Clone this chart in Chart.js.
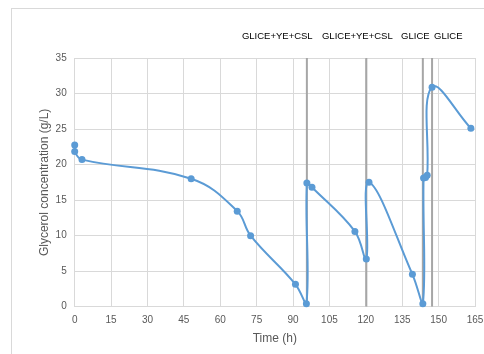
<!DOCTYPE html>
<html>
<head>
<meta charset="utf-8">
<script src="https://cdn.jsdelivr.net/npm/chart.js@4.4.0/dist/chart.umd.min.js"></script>
<style>
    html, body { margin: 0; padding: 0; background: #ffffff; }
    #wrap { position: relative; width: 484px; height: 354px; }
</style>
</head>
<body>
<div id="wrap"><canvas id="glycerolChart" width="484" height="354"></canvas></div>
<script>
// Glycerol concentration readings (h, g/L)
const times = [0, 0, 3, 48, 67, 72.5, 91, 95.5, 95.7, 97.8, 115.5, 120.2, 121.3, 139.2, 143.5, 143.8, 144.6, 145.3, 147.3, 163.3];
const glycerol = [22.75, 21.85, 20.7, 18.0, 13.45, 10.0, 3.15, 0.4, 17.4, 16.8, 10.6, 6.7, 17.5, 4.55, 0.4, 18.1, 18.2, 18.5, 30.9, 25.1];

// feeding events
const feedTimes = [95.7, 120.2, 143.5, 147.3];
const feedLabels = ["GLICE+YE+CSL", "GLICE+YE+CSL", "GLICE", "GLICE"];
const feedLabelAt = [83.5, 116.5, 140.4, 154];

const xTicks = [0, 15, 30, 45, 60, 75, 90, 105, 120, 135, 150, 165];
const yMax = 35;

const FONT = "'Liberation Sans', Arial, sans-serif";

const points = times.map((t, i) => ({ x: t, y: glycerol[i] }));

const feedSets = feedTimes.map((t) => ({
    data: [{ x: t, y: 0 }, { x: t, y: yMax }],
    borderColor: "#a6a6a6",
    borderWidth: 2,
    pointRadius: 0,
    tension: 0,
    order: 2,
}));

// frame + feed labels
const extras = {
    id: "extras",
    beforeDraw(chart) {
        const ctx = chart.ctx;
        ctx.save();
        ctx.strokeStyle = "#d9d9d9";
        ctx.lineWidth = 1;
        ctx.strokeRect(11.5, 8.5, 600, 500);
        ctx.restore();
    },
    afterDraw(chart) {
        const ctx = chart.ctx;
        const xs = chart.scales.x;
        ctx.save();
        ctx.fillStyle = "#000000";
        ctx.font = "9.5px " + FONT;
        ctx.textAlign = "center";
        ctx.textBaseline = "middle";
        feedLabels.forEach((txt, i) => {
            ctx.fillText(txt, xs.getPixelForValue(feedLabelAt[i]), 36);
        });
        ctx.restore();
    },
};

function noPad(s) {
    s.paddingLeft = 0;
    s.paddingRight = 0;
    s.paddingTop = 0;
    s.paddingBottom = 0;
}

const ctx = document.getElementById("glycerolChart").getContext("2d");
new Chart(ctx, {
    type: "line",
    data: {
        datasets: [
            {
                data: points,
                borderColor: "#5b9bd5",
                backgroundColor: "#5b9bd5",
                borderWidth: 2,
                pointRadius: 3.5,
                pointBorderWidth: 0,
                tension: 0.4,
                clip: false,
                order: 1,
            },
            ...feedSets,
        ],
    },
    options: {
        responsive: false,
        animation: false,
        events: [],
        layout: { padding: { top: 58, right: 9, left: 0, bottom: 0 } },
        plugins: { legend: { display: false }, tooltip: { enabled: false } },
        scales: {
            x: {
                type: "linear",
                min: 0,
                max: 165,
                afterBuildTicks: (s) => { s.ticks = xTicks.map((v) => ({ value: v })); },
                afterFit: (s) => { s.height = 47.3; noPad(s); },
                grid: { color: "#d9d9d9", drawTicks: false },
                border: { color: "#d9d9d9" },
                ticks: { color: "#595959", font: { family: FONT, size: 10 }, padding: 8, maxRotation: 0 },
                title: { display: true, text: "Time (h)", color: "#595959", font: { family: FONT, size: 12 }, padding: { top: 0, bottom: 8 } },
            },
            y: {
                min: 0,
                max: yMax,
                afterFit: (s) => { s.width = 74.7; noPad(s); },
                grid: { color: "#d9d9d9", drawTicks: false },
                border: { display: false },
                ticks: { stepSize: 5, color: "#595959", font: { family: FONT, size: 10 }, padding: 8 },
                title: { display: true, text: "Glycerol concentration (g/L)", color: "#595959", font: { family: FONT, size: 12 }, padding: { top: 37, bottom: 0 } },
            },
        },
    },
    plugins: [extras],
});
</script>
</body>
</html>
